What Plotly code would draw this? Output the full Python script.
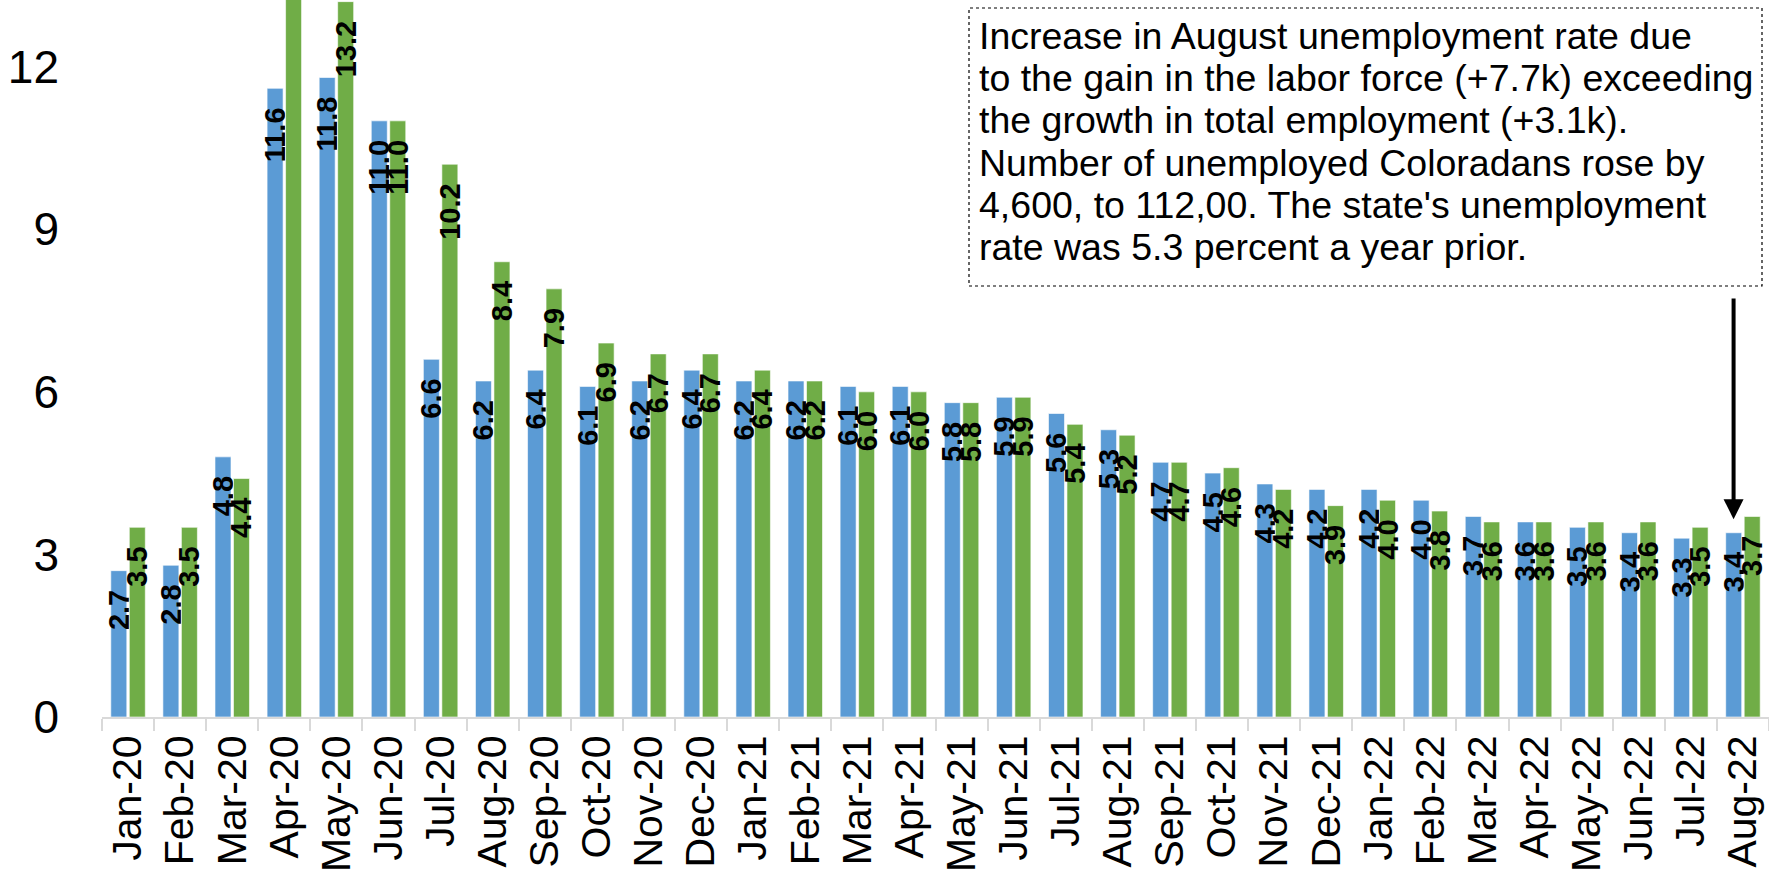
"""Colorado vs U.S. unemployment rate, Jan-2020 to Aug-2022."""

import plotly.graph_objects as go

MONTHS = [
    "Jan-20", "Feb-20", "Mar-20", "Apr-20", "May-20", "Jun-20", "Jul-20", "Aug-20",
    "Sep-20", "Oct-20", "Nov-20", "Dec-20", "Jan-21", "Feb-21", "Mar-21", "Apr-21",
    "May-21", "Jun-21", "Jul-21", "Aug-21", "Sep-21", "Oct-21", "Nov-21", "Dec-21",
    "Jan-22", "Feb-22", "Mar-22", "Apr-22", "May-22", "Jun-22", "Jul-22", "Aug-22",
]
COLORADO = [
    2.7, 2.8, 4.8, 11.6, 11.8, 11.0, 6.6, 6.2, 6.4, 6.1, 6.2, 6.4, 6.2, 6.2, 6.1, 6.1,
    5.8, 5.9, 5.6, 5.3, 4.7, 4.5, 4.3, 4.2, 4.2, 4.0, 3.7, 3.6, 3.5, 3.4, 3.3, 3.4,
]
US = [
    3.5, 3.5, 4.4, 14.7, 13.2, 11.0, 10.2, 8.4, 7.9, 6.9, 6.7, 6.7, 6.4, 6.2, 6.0, 6.0,
    5.8, 5.9, 5.4, 5.2, 4.7, 4.6, 4.2, 3.9, 4.0, 3.8, 3.6, 3.6, 3.6, 3.6, 3.5, 3.7,
]
Y_TICKS = [0, 3, 6, 9, 12]
NOTE_LINES = [
    "Increase in August unemployment rate due",
    "to the gain in the labor force (+7.7k) exceeding",
    "the growth in total employment (+3.1k).",
    "Number of unemployed Coloradans rose by",
    "4,600, to 112,00. The state's unemployment",
    "rate was 5.3 percent a year prior.",
]

COLOURS = {"co": "#5B9BD5", "us": "#70AD47"}
FONT = "Liberation Sans, Arial, sans-serif"

W, H = 1769, 882
L, B = 102, 165
Y_MAX = 13.23


def bar_trace(name, values, colour):
    return go.Bar(
        name=name, x=MONTHS, y=values,
        marker=dict(color=colour, line=dict(color="rgba(255,255,255,0.6)", width=1)),
        text=[f"{v:.1f}  " for v in values],
        textposition="inside", insidetextanchor="end",
        textangle=-90, constraintext="none",
        textfont=dict(family=FONT, size=29, color="black", weight="bold"),
        cliponaxis=True,
    )


fig = go.Figure()
fig.add_trace(bar_trace("Colorado", COLORADO, COLOURS["co"]))
fig.add_trace(bar_trace("U.S.", US, COLOURS["us"]))

plot_h = H - B
plot_w = W - L


def py(pix):
    """pixel row -> paper y"""
    return (plot_h - pix) / plot_h


def px(pix):
    """pixel column -> paper x"""
    return (pix - L) / plot_w


# dotted note box
fig.add_shape(
    type="rect", xref="paper", yref="paper",
    x0=px(969), x1=px(1762), y0=py(286), y1=py(8),
    line=dict(color="black", width=1.2, dash="dot"),
    fillcolor="white", layer="above",
)
for i, line in enumerate(NOTE_LINES):
    fig.add_annotation(
        text=line, xref="paper", yref="paper",
        x=px(977), y=py(36 + i * 42.2), xanchor="left", yanchor="middle",
        showarrow=False, font=dict(family=FONT, size=37.5, color="black"),
    )

# arrow pointing at the August Colorado bar
aug = len(MONTHS) - 1 - 0.18
fig.add_annotation(
    x=aug, y=3.65, ax=aug, ay=7.75, xref="x", yref="y", axref="x", ayref="y",
    text="", showarrow=True, arrowhead=2, arrowsize=1, arrowwidth=4,
    arrowcolor="black",
)

fig.update_layout(
    width=W, height=H,
    margin=dict(l=L, r=0, t=0, b=B, autoexpand=False),
    barmode="group", bargap=0.29, bargroupgap=0.135,
    plot_bgcolor="white", paper_bgcolor="white",
    showlegend=False,
    font=dict(family=FONT, color="black"),
    xaxis=dict(
        type="category", tickangle=-90, tickson="boundaries",
        ticks="outside", ticklen=12, tickwidth=2, tickcolor="#d9d9d9",
        showline=True, linecolor="#d9d9d9", linewidth=2, automargin=False,
        showgrid=False, tickfont=dict(family=FONT, size=41, color="black"),
        range=[-0.5, len(MONTHS) - 0.5],
    ),
    yaxis=dict(
        range=[0, Y_MAX], tickvals=Y_TICKS, showgrid=False, zeroline=False,
        showline=False, ticks="", ticklabelstandoff=42, automargin=False,
        tickfont=dict(family=FONT, size=46, color="black"),
    ),
)

# drop the browser's default 8px page margin so the chart sits at the corner
fig.write_html(
    "out.html",
    config={"displayModeBar": False},
    post_script="document.body.style.margin='0';",
)
